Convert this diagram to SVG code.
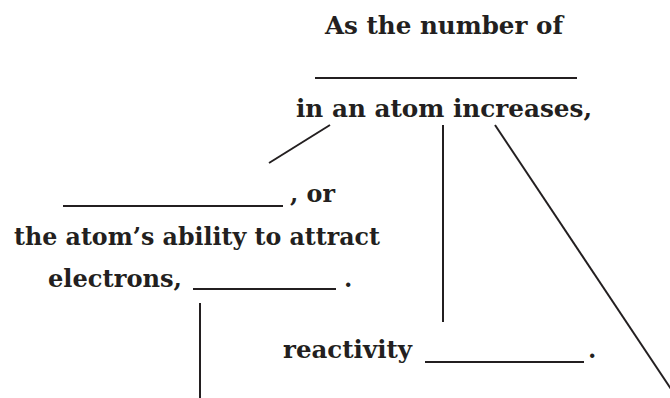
<svg xmlns="http://www.w3.org/2000/svg" width="670" height="398" viewBox="0 0 670 398">
<style>
.t{font-family:"DejaVu Serif",serif;font-weight:bold;font-size:24px;fill:#231f20}
.l{stroke:#231f20;stroke-width:2;fill:none}
</style>
<rect width="670" height="398" fill="#ffffff"/>
<g id="top">
<text class="t" x="325" y="34" textLength="238" lengthAdjust="spacingAndGlyphs">As the number of</text>
<line class="l" x1="315" y1="78" x2="577" y2="78"/>
<text class="t" x="296" y="117" textLength="296" lengthAdjust="spacingAndGlyphs">in an atom increases,</text>
</g>
<g id="electronegativity">
<line class="l" x1="63" y1="206" x2="283" y2="206"/>
<text class="t" x="290" y="202" textLength="45" lengthAdjust="spacingAndGlyphs">, or</text>
<text class="t" x="14" y="245" textLength="366" lengthAdjust="spacingAndGlyphs">the atom’s ability to attract</text>
<text class="t" x="48" y="287" textLength="134" lengthAdjust="spacingAndGlyphs">electrons,</text>
<line class="l" x1="193" y1="289" x2="336" y2="289"/>
<text class="t" x="344" y="287">.</text>
</g>
<g id="reactivity">
<text class="t" x="283" y="358" textLength="129" lengthAdjust="spacingAndGlyphs">reactivity</text>
<line class="l" x1="425" y1="362" x2="584" y2="362"/>
<text class="t" x="588" y="358">.</text>
</g>
<g id="connectors">
<line class="l" x1="330" y1="125" x2="269" y2="163"/>
<line class="l" x1="443" y1="125" x2="443" y2="322"/>
<line class="l" x1="495" y1="125" x2="677" y2="398"/>
<line class="l" x1="200" y1="303" x2="200" y2="398"/>
</g>
</svg>
